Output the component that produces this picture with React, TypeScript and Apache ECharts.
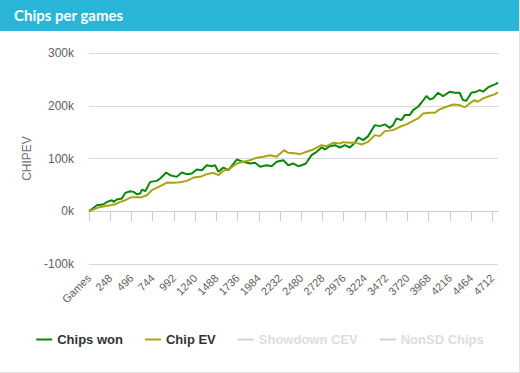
import React, { useEffect, useRef } from "react";
import * as echarts from "echarts";

const titleText = "Chips per games";
const legendNames = ["Chips won", "Chip EV", "Showdown CEV", "NonSD Chips"];
const yTicks = [-100, 0, 100, 200, 300];
const xTickValues = [0, 248, 496, 744, 992, 1240, 1488, 1736, 1984, 2232, 2480, 2728, 2976, 3224, 3472, 3720, 3968, 4216, 4464, 4712];
const totalGames = 4778;

// Chips won (thousands) at game numbers
const gamesWon = [0, 93, 171, 210, 268, 287, 326, 385, 423, 482, 521, 559, 598, 618, 657, 715, 793, 832, 902, 948, 1026, 1084, 1143, 1201, 1259, 1318, 1376, 1434, 1473, 1512, 1570, 1629, 1726, 1803, 1881, 1940, 1998, 2076, 2134, 2192, 2270, 2328, 2387, 2445, 2484, 2534, 2600, 2659, 2717, 2756, 2814, 2873, 2931, 2989, 3048, 3106, 3145, 3203, 3261, 3339, 3397, 3456, 3514, 3553, 3592, 3650, 3689, 3747, 3786, 3844, 3883, 3942, 3981, 4019, 4078, 4136, 4214, 4272, 4330, 4369, 4408, 4467, 4525, 4564, 4603, 4661, 4719, 4750, 4778];
const chipsWon = [0, 11.4, 13.3, 17.7, 20.9, 17.7, 22.2, 24.1, 34.8, 38, 36.7, 32.3, 33.5, 41.1, 38, 55.7, 57.6, 62, 73.4, 68.4, 65.2, 73.4, 70.3, 71.5, 79.1, 77.8, 87.3, 85.4, 87.3, 74.7, 82.9, 77.8, 98.1, 93.7, 90.5, 91.8, 84.2, 87.3, 85.4, 93.7, 96.8, 87.3, 90.5, 85.4, 87.3, 90.5, 106.3, 112.7, 120.9, 117.1, 123.4, 125.3, 120.9, 125.3, 120.9, 129.7, 139.9, 134.8, 142.4, 163.3, 161.4, 164.6, 158.2, 163.3, 175.9, 172.8, 182.3, 182.3, 191.8, 198.1, 205.7, 218.4, 212, 213.9, 224.7, 218.4, 226.6, 224.7, 224.7, 210.8, 209.5, 224.7, 226.6, 229.7, 226.6, 234.8, 239.2, 241.1, 243.7];

// Chip EV (thousands) at game numbers
const gamesEv = [0, 132, 248, 307, 365, 423, 482, 559, 598, 676, 734, 832, 909, 987, 1065, 1143, 1220, 1298, 1376, 1454, 1512, 1570, 1648, 1726, 1803, 1881, 1959, 2037, 2114, 2192, 2278, 2328, 2426, 2464, 2542, 2620, 2717, 2775, 2853, 2931, 2970, 3048, 3125, 3184, 3261, 3339, 3397, 3456, 3553, 3631, 3708, 3786, 3844, 3903, 3981, 4039, 4097, 4175, 4253, 4330, 4389, 4447, 4505, 4544, 4603, 4680, 4739, 4778];
const chipEv = [0, 8.2, 11.4, 13.3, 17.7, 20.9, 25.9, 27.2, 25.9, 30.4, 39.9, 47.5, 54.4, 53.8, 55.1, 57.6, 63.9, 65.2, 70.3, 72.8, 68.4, 76.6, 81, 90.5, 93.7, 96.8, 101.3, 103.2, 106.3, 103.2, 115.8, 110.8, 109.5, 108.2, 112.7, 117.1, 125.3, 123.4, 129.7, 128.5, 131, 129.7, 129.7, 126.6, 131.6, 144.3, 142.4, 151.9, 153.8, 160.1, 164.6, 171.5, 175.9, 185.4, 186.7, 186.7, 193, 198.1, 202.5, 201.3, 196.8, 204.4, 210.8, 207.6, 213.9, 218.4, 221.5, 225.3];

const colors = ["#0a870a", "#aaa415", "#7cb5ec", "#f7a35c"];

export default function App() {
  const ref = useRef<HTMLDivElement>(null);
  useEffect(() => {
    if (!ref.current) return;
    const chart = echarts.init(ref.current, null, { renderer: "svg" });
    const wonData = gamesWon.map((g, i) => [g, chipsWon[i]]);
    const evData = gamesEv.map((g, i) => [g, chipEv[i]]);
    const labelFont = "'Liberation Sans', Arial, sans-serif";
    chart.setOption({
      animation: false,
      graphic: [
        {
          type: "rect",
          z: -10,
          shape: { x: 0, y: 0, width: 519, height: 31 },
          style: { fill: "#29b5d8" },
        },
      ],
      title: {
        text: titleText,
        left: 14,
        top: 7,
        padding: 0,
        textStyle: { color: "#ffffff", fontFamily: "Lato", fontWeight: "bold", fontSize: 15 },
      },
      color: colors,
      legend: {
        data: legendNames,
        left: "center",
        top: 328,
        itemWidth: 16,
        itemHeight: 14,
        itemGap: 21,
        inactiveColor: "#dddddd",
        itemStyle: { opacity: 0 },
        lineStyle: { width: 2 },
        textStyle: { color: "#333333", fontWeight: "bold", fontSize: 13, fontFamily: labelFont },
        selected: { "Showdown CEV": false, "NonSD Chips": false },
      },
      grid: { left: 89, right: 21, top: 53, bottom: 108, containLabel: false },
      xAxis: {
        type: "value",
        min: 0,
        max: totalGames,
        interval: 248,
        axisLine: { show: true, lineStyle: { color: "#c0d0e0", width: 1 } },
        axisTick: { show: true, length: 10, lineStyle: { color: "#c0d0e0" }, customValues: xTickValues },
        splitLine: { show: false },
        axisLabel: {
          customValues: xTickValues,
          rotate: 45,
          margin: 12,
          color: "#606060",
          fontSize: 11,
          fontFamily: labelFont,
          formatter: (v: number) => (v === 0 ? "Games" : String(v)),
        },
      },
      yAxis: {
        type: "value",
        min: yTicks[0],
        max: yTicks[yTicks.length - 1],
        interval: 100,
        name: "CHIPEV",
        nameLocation: "middle",
        nameGap: 55,
        nameRotate: 90,
        nameTextStyle: { color: "#707070", fontSize: 12, fontFamily: labelFont },
        axisLine: { show: false },
        axisTick: { show: false },
        splitLine: { lineStyle: { color: "#d8d8d8", width: 1 } },
        axisLabel: {
          margin: 15,
          color: "#606060",
          fontSize: 12,
          fontFamily: labelFont,
          formatter: (v: number) => `${v}k`,
        },
      },
      series: [
        { name: legendNames[0], type: "line", data: wonData, symbol: "none", lineStyle: { width: 2, color: colors[0] }, itemStyle: { color: colors[0] } },
        { name: legendNames[1], type: "line", data: evData, symbol: "none", lineStyle: { width: 2, color: colors[1] }, itemStyle: { color: colors[1] } },
        { name: legendNames[2], type: "line", data: [], symbol: "none", lineStyle: { width: 2 } },
        { name: legendNames[3], type: "line", data: [], symbol: "none", lineStyle: { width: 2 } },
      ],
    });
    return () => chart.dispose();
  }, []);
  return (
    <div style={{ position: "fixed", left: 0, top: 0, width: 520, height: 373, background: "#ffffff" }}>
      <div
        ref={ref}
        style={{
          width: 519,
          height: 372,
          borderRight: "1px solid #e3e3e3",
          borderBottom: "1px solid #e3e3e3",
        }}
      />
    </div>
  );
}
